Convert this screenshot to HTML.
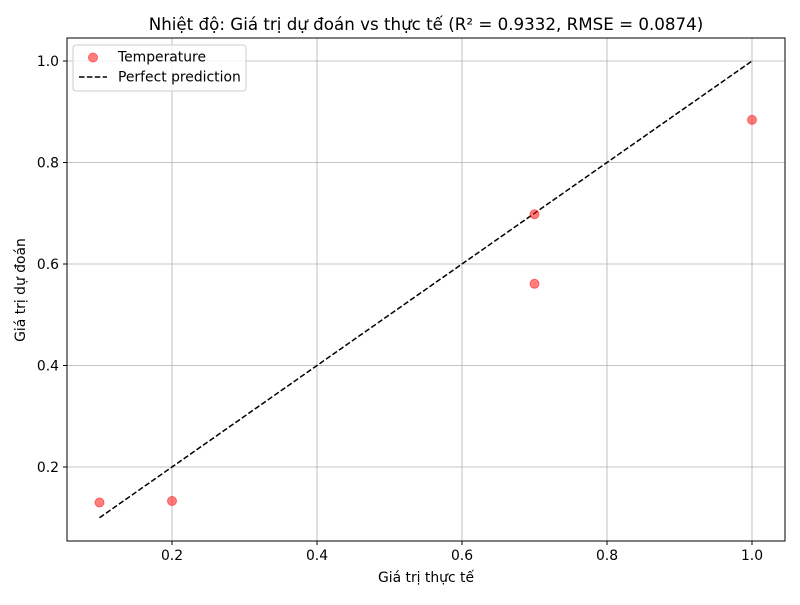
<!DOCTYPE html>
<html><head><meta charset="utf-8"><style>
body{margin:0;background:#fff;}
svg text{font-family:"DejaVu Sans","Liberation Sans",sans-serif;}
</style></head><body>
<svg id="chart" width="800" height="600" xmlns="http://www.w3.org/2000/svg">
<rect width="800" height="600" fill="#fff"/>
<text x="426" y="30" text-anchor="middle" font-size="16.7">Nhiệt độ: Giá trị dự đoán vs thực tế (R² = 0.9332, RMSE = 0.0874)</text>
<g id="grid"></g>
<g id="axes"></g>
<g id="marks"></g>
<rect x="67" y="38" width="718" height="503" fill="none" stroke="#000" stroke-width="1"/>
<text x="426" y="582" text-anchor="middle" font-size="13.9">Giá trị thực tế</text>
<text x="25" y="290" text-anchor="middle" font-size="13.9" transform="rotate(-90 25 290)">Giá trị dự đoán</text>
<g>
<rect x="73" y="45" width="173" height="46" rx="3" fill="#fff" fill-opacity="0.8" stroke="#ccc"/>
<circle cx="93" cy="57.5" r="4.5" fill="#ff0000" fill-opacity="0.5" stroke="#ff0000" stroke-opacity="0.5"/>
<text x="118" y="61.5" font-size="13.9">Temperature</text>
<line x1="79" y1="77" x2="107" y2="77" stroke="#000" stroke-width="1.5" stroke-dasharray="5.5,2.4"/>
<text x="118" y="81.5" font-size="13.9">Perfect prediction</text>
</g>
</svg>
<script>
const actualValues=[0.1,0.2,0.7,0.7,1.0];
const predictedValues=[0.13,0.133,0.698,0.561,0.884];
const xTicks=[0.2,0.4,0.6,0.8,1.0];
const yTicks=[0.2,0.4,0.6,0.8,1.0];
const lineRange=[0.1,1.0];
const NS="http://www.w3.org/2000/svg";
function sx(v){return 27+725*v;}
function sy(v){return 568.5-507.5*v;}
function mk(tag,attrs,parent){const e=document.createElementNS(NS,tag);for(const k in attrs)e.setAttribute(k,attrs[k]);document.getElementById(parent).appendChild(e);return e;}
xTicks.forEach(t=>{
 const g=mk('line',{x1:sx(t),x2:sx(t),y1:38,y2:541,stroke:'#b0b0b0','stroke-width':0.8},'grid');
 
 
 const k=mk('line',{x1:sx(t),x2:sx(t),y1:541,y2:545,stroke:'#000'},'axes');
 
 
 const l=mk('text',{x:sx(t),y:560,'text-anchor':'middle','font-size':13.9},'axes');
 l.textContent=t.toFixed(1);
 
 
});
yTicks.forEach(t=>{
 const g=mk('line',{x1:67,x2:785,y1:sy(t),y2:sy(t),stroke:'#b0b0b0','stroke-width':0.8},'grid');
 
 
 const k=mk('line',{x1:63,x2:67,y1:sy(t),y2:sy(t),stroke:'#000'},'axes');
 
 
 const l=mk('text',{x:59,y:sy(t)+5,'text-anchor':'end','font-size':13.9},'axes');
 l.textContent=t.toFixed(1);
 
 
});
const pl=mk('line',{x1:sx(lineRange[0]),y1:sy(lineRange[0]),x2:sx(lineRange[1]),y2:sy(lineRange[1]),stroke:'#000','stroke-width':1.5,'stroke-dasharray':'5.5,2.4'},'marks');


actualValues.forEach((a,i)=>{
 const c=mk('circle',{cx:sx(a),cy:sy(predictedValues[i]),r:4.5,fill:'#ff0000','fill-opacity':0.5,stroke:'#ff0000','stroke-opacity':0.5},'marks');
 
 
});
</script>
</body></html>
